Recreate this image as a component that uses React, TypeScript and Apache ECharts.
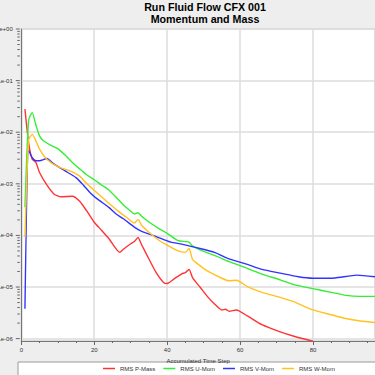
import React, { useEffect, useRef } from "react";
import * as echarts from "echarts";

// ---- Data ----
const pMassSteps = [1, 2, 3, 4, 5, 7, 9, 11, 14, 16, 18, 20, 22, 24, 26, 27, 28, 30, 31, 32, 33, 35, 37, 39, 40, 42, 44, 45, 46, 47, 49, 51, 53, 55, 56, 57, 59, 62, 66, 71, 75, 80];
const pMassValues = [2.8e-2, 6.3e-3, 3.0e-3, 2.6e-3, 1.66e-3, 9.5e-4, 6.3e-4, 5.6e-4, 5.75e-4, 4.6e-4, 2.95e-4, 1.8e-4, 1.26e-4, 8.7e-5, 5.5e-5, 4.7e-5, 5.4e-5, 6.9e-5, 7.6e-5, 9.1e-5, 6.6e-5, 3.5e-5, 1.9e-5, 1.23e-5, 1.17e-5, 1.45e-5, 1.8e-5, 1.9e-5, 2.2e-5, 1.5e-5, 1.0e-5, 6.6e-6, 4.7e-6, 3.6e-6, 3.7e-6, 3.4e-6, 3.6e-6, 2.75e-6, 1.86e-6, 1.35e-6, 1.1e-6, 8.9e-7];

const uMomSteps = [1, 2, 3, 4, 5, 6, 8, 10, 12, 14, 16, 18, 20, 22, 24, 26, 28, 30, 31, 32, 33, 35, 38, 40, 43, 45, 46, 47, 50, 53, 57, 62, 66, 71, 75, 80, 85, 89, 93, 97];
const uMomValues = [3.5e-4, 1.7e-2, 2.4e-2, 1.38e-2, 8.5e-3, 6.9e-3, 5.6e-3, 4.8e-3, 3.6e-3, 2.6e-3, 1.95e-3, 1.48e-3, 1.2e-3, 9.5e-4, 7.6e-4, 5.5e-4, 3.9e-4, 2.95e-4, 2.6e-4, 2.75e-4, 2.35e-4, 1.82e-4, 1.32e-4, 1.1e-4, 7.9e-5, 7.6e-5, 7.4e-5, 6.2e-5, 4.9e-5, 4.1e-5, 3.1e-5, 2.3e-5, 1.78e-5, 1.38e-5, 1.1e-5, 9.3e-6, 7.9e-6, 6.9e-6, 6.6e-6, 6.6e-6];

const vMomSteps = [1, 2, 3, 4, 5, 7, 9, 12, 15, 17, 19, 21, 24, 26, 28, 31, 33, 37, 41, 44, 48, 53, 57, 62, 66, 71, 76, 80, 86, 92, 97];
const vMomValues = [3.8e-6, 4.5e-3, 3.2e-3, 2.8e-3, 2.8e-3, 3.1e-3, 2.4e-3, 1.78e-3, 1.32e-3, 9.5e-4, 6.6e-4, 5.0e-4, 3.5e-4, 2.6e-4, 2.1e-4, 1.45e-4, 1.2e-4, 9.5e-5, 7.4e-5, 6.8e-5, 5.8e-5, 4.7e-5, 3.5e-5, 2.75e-5, 2.2e-5, 1.86e-5, 1.58e-5, 1.48e-5, 1.5e-5, 1.7e-5, 1.58e-5];

const wMomSteps = [1, 2, 3, 4, 5, 7, 10, 13, 16, 18, 21, 24, 27, 29, 31, 32, 33, 35, 38, 40, 43, 45, 46, 47, 49, 51, 55, 57, 59, 62, 66, 71, 75, 80, 85, 89, 93, 97];
const wMomValues = [9.3e-5, 7.1e-3, 9.1e-3, 6.8e-3, 4.7e-3, 3.0e-3, 2.15e-3, 1.82e-3, 1.41e-3, 1.0e-3, 6.5e-4, 4.2e-4, 2.8e-4, 2.2e-4, 1.74e-4, 2.05e-4, 1.58e-4, 1.15e-4, 7.8e-5, 6.5e-5, 5.0e-5, 4.7e-5, 5.6e-5, 3.4e-5, 2.6e-5, 2.05e-5, 1.48e-5, 1.32e-5, 1.35e-5, 1.02e-5, 7.9e-6, 6.3e-6, 5.1e-6, 3.6e-6, 2.9e-6, 2.45e-6, 2.2e-6, 2.05e-6];

const seriesNames = ["RMS P-Mass", "RMS U-Mom", "RMS V-Mom", "RMS W-Mom"];
const seriesColors = ["#ff3333", "#33ee33", "#3333ff", "#ffc21f"];

const yTickLabels = ["1e+00", "1e-01", "1e-02", "1e-03", "1e-04", "1e-05", "1e-06"];
const yMajorTicks = [1, 1e-1, 1e-2, 1e-3, 1e-4, 1e-5, 1e-6];
const yMinorMultipliers = [2, 3, 4, 5, 6, 7, 8, 9];

const titleLines = ["Run Fluid Flow CFX 001", "Momentum and Mass"];
const xAxisName = "Accumulated Time Step";

const FONT = "'Liberation Sans', Arial, sans-serif";
const Y_OFFSET = 1.5;

function pairs(steps: number[], values: number[]) {
  return steps.map((s, i) => [s, values[i]]);
}

export default function App() {
  const ref = useRef<HTMLDivElement>(null);

  useEffect(() => {
    if (!ref.current) return;
    const chart = echarts.init(ref.current, undefined, { renderer: "svg" });

    const tickData: number[][] = [];
    yMajorTicks.forEach((m) => tickData.push([0, m, 1]));
    yMajorTicks.slice(1).forEach((m) => {
      yMinorMultipliers.forEach((k) => tickData.push([0, k * m, 0]));
    });

    const datasets = [
      pairs(pMassSteps, pMassValues),
      pairs(uMomSteps, uMomValues),
      pairs(vMomSteps, vMomValues),
      pairs(wMomSteps, wMomValues),
    ];

    const lineSeries = datasets.map((d, i) => ({
      name: seriesNames[i],
      type: "line",
      data: d,
      showSymbol: false,
      smooth: 0.2,
      color: seriesColors[i],
      lineStyle: { width: 1.4, color: seriesColors[i] },
      z: 3,
    }));

    chart.setOption({
      animation: false,
      backgroundColor: "#eeeeee",
      textStyle: { fontFamily: FONT },
      grid: {
        left: 21.3,
        right: 0,
        top: 29,
        bottom: 34,
        containLabel: false,
        outerBoundsMode: "none",
        show: true,
        backgroundColor: "#ffffff",
        borderColor: "#c4c4c4",
        borderWidth: 1,
      },
      graphic: [
        {
          type: "rect",
          shape: { x: 18, y: 362, width: 370, height: 20 },
          style: { fill: "#ffffff", stroke: "#9a9a9a", lineWidth: 1 },
          z: 0,
        },
        {
          type: "text",
          x: 205,
          y: 6.5,
          style: {
            text: titleLines[0],
            fontFamily: FONT,
            fontSize: 10.7,
            fontWeight: "bold",
            fill: "#000",
            align: "center",
            verticalAlign: "middle",
          },
        },
        {
          type: "text",
          x: 205,
          y: 19,
          style: {
            text: titleLines[1],
            fontFamily: FONT,
            fontSize: 10.7,
            fontWeight: "bold",
            fill: "#000",
            align: "center",
            verticalAlign: "middle",
          },
        },
      ],
      legend: {
        data: seriesNames,
        left: 103,
        top: 365.5,
        padding: 0,
        itemGap: 8,
        icon: "rect",
        itemWidth: 12,
        itemHeight: 1.5,
        textStyle: { fontSize: 6, color: "#333", fontFamily: FONT },
      },
      xAxis: {
        type: "value",
        min: 0,
        max: 97,
        interval: 20,
        name: xAxisName,
        nameLocation: "middle",
        nameGap: 12,
        nameTextStyle: { fontSize: 6, color: "#333", fontFamily: FONT },
        axisLine: { show: true, lineStyle: { color: "#777", width: 1 } },
        axisTick: { show: true, length: 4, lineStyle: { color: "#666" } },
        minorTick: { show: true, splitNumber: 4, length: 2, lineStyle: { color: "#666" } },
        axisLabel: { fontSize: 6, color: "#333", margin: 6, fontFamily: FONT, showMaxLabel: false },
        splitLine: { show: true, lineStyle: { color: "#dcdcdc", width: 1.5 } },
      },
      yAxis: {
        type: "log",
        logBase: 10,
        min: 9e-7,
        max: 1,
        offset: Y_OFFSET,
        axisLine: { show: true, lineStyle: { color: "#777", width: 1 } },
        axisTick: { show: false },
        axisLabel: {
          fontSize: 6,
          color: "#333",
          margin: 7,
          fontFamily: FONT,
          formatter: (v: number) => {
            const e = Math.log10(v);
            const r = Math.round(e);
            if (Math.abs(e - r) > 0.01) return "";
            const idx = -r;
            return yTickLabels[idx] ?? "";
          },
        },
        splitLine: { show: true, lineStyle: { color: "#dcdcdc", width: 1.5 } },
      },
      series: [
        ...lineSeries,
        {
          type: "custom",
          name: "yTicks",
          silent: true,
          clip: false,
          data: tickData,
          encode: { x: 0, y: 1 },
          renderItem: (params: any, api: any) => {
            const v = api.value(1);
            const major = api.value(2);
            const p = api.coord([0, v]);
            const x = p[0] - Y_OFFSET;
            const len = major ? 4 : 2.5;
            return {
              type: "line",
              shape: { x1: x - len, y1: p[1], x2: x, y2: p[1] },
              style: { stroke: "#666", lineWidth: 1 },
            };
          },
          z: 4,
        },
      ],
    } as any);

    return () => {
      chart.dispose();
    };
  }, []);

  return (
    <div
      ref={ref}
      style={{ position: "fixed", left: 0, top: 0, width: 375, height: 375 }}
    />
  );
}
